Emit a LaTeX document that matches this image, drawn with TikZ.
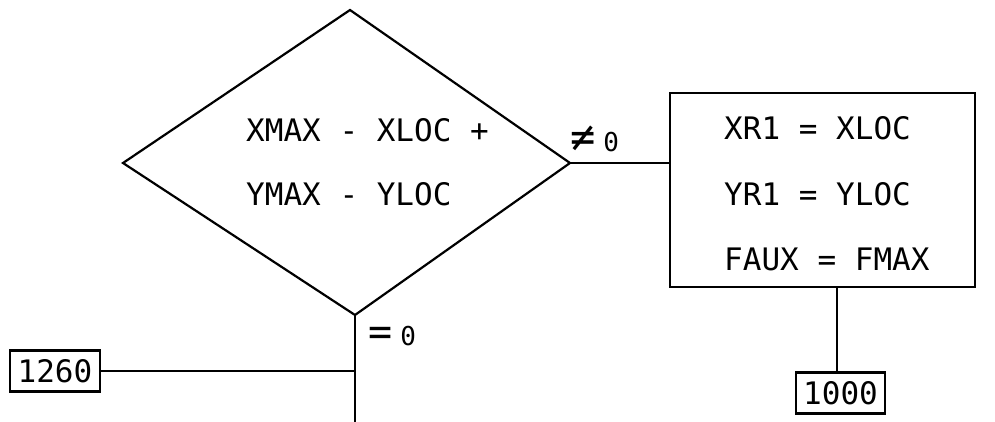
\documentclass[tikz,border=0pt]{standalone}
\usepackage{fontspec}
\setmonofont{DejaVu Sans Mono}
\begin{document}
\begin{tikzpicture}[x=1pt,y=-1pt,
  ln/.style={line width=2.2pt},
  txt/.style={font=\ttfamily\fontsize{31}{31}\selectfont, inner sep=0pt, anchor=base west},
  lab/.style={font=\ttfamily\fontsize{26}{26}\selectfont, inner sep=0pt, anchor=base west},
  numbox/.style={draw, line width=2.2pt, font=\ttfamily\fontsize{31}{31}\selectfont, inner sep=0pt, minimum height=41pt}]
\useasboundingbox (0,0) rectangle (995,422);
% decision diamond
\coordinate (dtop) at (350,10);
\coordinate (dright) at (570,163);
\coordinate (dbot) at (355,315);
\coordinate (dleft) at (123,163);
\draw[ln, line join=miter] (dtop) -- (dright) -- (dbot) -- (dleft) -- cycle;
\node[txt] (c1) at (246,142) {XMAX - XLOC +};
\node[txt] (c2) at (246,205) {YMAX - YLOC};
% assignment box
\node[draw, ln, minimum width=305pt, minimum height=194pt, inner sep=0pt] (abox) at (822.5,190) {};
\node[txt] (a1) at (724,140) {XR1 = XLOC};
\node[txt] (a2) at (724,205) {YR1 = YLOC};
\node[txt] (a3) at (724,270) {FAUX = FMAX};
\draw[ln] (dright) -- (dright -| abox.west);
\node[lab] (ne) at (570,152) {{\fontsize{42}{42}\selectfont ≠}\hspace{8pt}0};
% to 1000
\node[numbox, minimum width=89pt] (n1000) at (840.5,393) {1000};
\draw[ln] (837,287) -- (837,373);
% bottom branch
\coordinate (bend) at (355,422);
\coordinate (bj) at (355,371);
\draw[ln] (dbot) -- (bend);
\node[numbox, minimum width=90pt] (n1260) at (55,371) {1260};
\draw[ln] (n1260.east) -- (bj);
\node[lab] (eq) at (368,345) {{\fontsize{40}{40}\selectfont =}\hspace{8pt}0};
\end{tikzpicture}
\end{document}
